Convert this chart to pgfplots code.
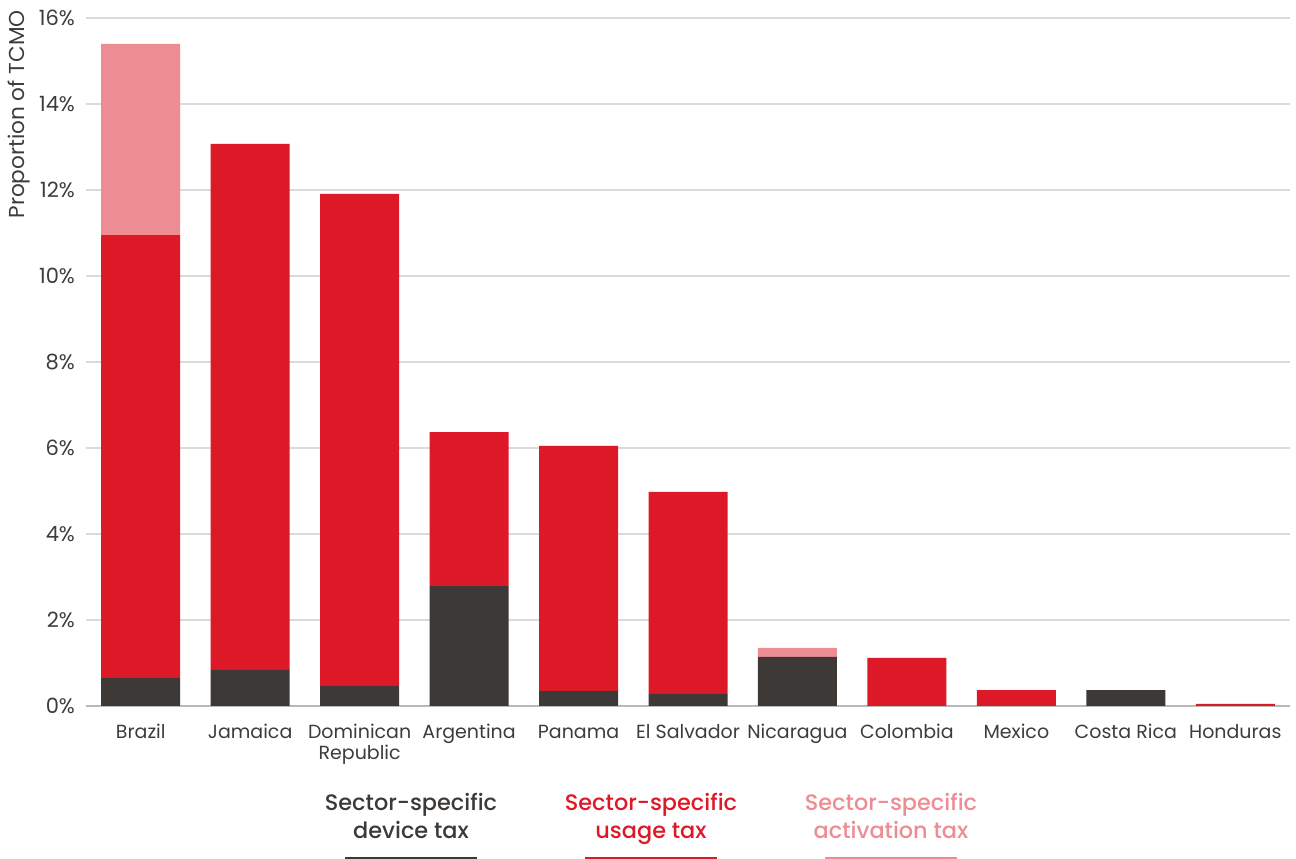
\documentclass[border=0pt]{standalone}
\usepackage{pgfplots}
\pgfplotsset{compat=1.18}
\usepackage{pgfplotstable}
\usepackage{fontspec}
\setmainfont{Poppins}
\newfontfamily\legfont{Poppins Medium}
\usetikzlibrary{calc}
\definecolor{dev}{HTML}{3D3936}
\definecolor{use}{HTML}{DE1927}
\definecolor{act}{HTML}{EE8C94}
\definecolor{txt}{HTML}{3C3C3C}
\definecolor{grd}{HTML}{DADADA}
\pgfplotstableread{
x dev use act
0 0.65 10.30 4.45
1 0.84 12.23 0
2 0.47 11.44 0
3 2.79 3.58 0
4 0.35 5.70 0
5 0.28 4.70 0
6 1.14 0 0.21
7 0 1.12 0
8 0 0.37 0
9 0.37 0 0
10 0 0.05 0
}\data
\begin{document}
\begin{tikzpicture}
\begin{axis}[
  scale only axis, width=602pt, height=344pt,
  ybar stacked, bar width=39.5pt,
  xmin=-0.5, xmax=10.5, ymin=0, ymax=16,
  xtick=data,
  xticklabels={Brazil,Jamaica,{Dominican\\Republic},Argentina,Panama,El Salvador,Nicaragua,Colombia,Mexico,Costa Rica,Honduras},
  typeset ticklabels with strut,
  xticklabel style={align=center, font=\fontsize{9.5}{10.5}\selectfont, text=txt, yshift=-5.5pt},
  ytick={0,2,...,16},
  yticklabels={0\%,2\%,4\%,6\%,8\%,10\%,12\%,14\%,16\%},
  yticklabel style={font=\fontsize{10.5}{12}\selectfont, text=txt, xshift=-2pt, yshift=-1.6pt},
  ymajorgrids, grid style={grd, line width=0.6pt},
  axis x line*=bottom, axis y line*=left,
  y axis line style={draw=none},
  x axis line style={draw=grd!85!black, line width=1.2pt, -},
  major tick length=0pt,
  clip=false,
]
\addplot[fill=dev, draw=none] table[x=x, y=dev] {\data};
\addplot[fill=use, draw=none] table[x=x, y=use] {\data};
\addplot[fill=act, draw=none] table[x=x, y=act] {\data};
\coordinate (o) at (rel axis cs:0,0);
\coordinate (t) at (rel axis cs:1,1);
\end{axis}
\node[rotate=90, anchor=north east, text=txt, font=\fontsize{10.8}{12}\selectfont, inner sep=0pt] at ($(o)+(-39pt,348pt)$) {Proportion of TCMO};
\begin{scope}[font=\legfont\fontsize{11.2}{14}\selectfont]
\node[align=center, anchor=north, text=dev] at ($(o)+(162.5pt,-40pt)$) {Sector-specific\\device tax};
\node[align=center, anchor=north, text=use] at ($(o)+(282.5pt,-40pt)$) {Sector-specific\\usage tax};
\node[align=center, anchor=north, text=act] at ($(o)+(402.5pt,-40pt)$) {Sector-specific\\activation tax};
\end{scope}
\draw[dev, line width=1pt] ($(o)+(129.5pt,-76pt)$) -- ($(o)+(195.5pt,-76pt)$);
\draw[use, line width=1pt] ($(o)+(249.5pt,-76pt)$) -- ($(o)+(315.5pt,-76pt)$);
\draw[act, line width=1pt] ($(o)+(369.5pt,-76pt)$) -- ($(o)+(435.5pt,-76pt)$);
\pgfresetboundingbox
\path[use as bounding box] ($(o)+(-43pt,-76.5pt)$) rectangle ($(t)+(3pt,9pt)$);
\end{tikzpicture}
\end{document}
